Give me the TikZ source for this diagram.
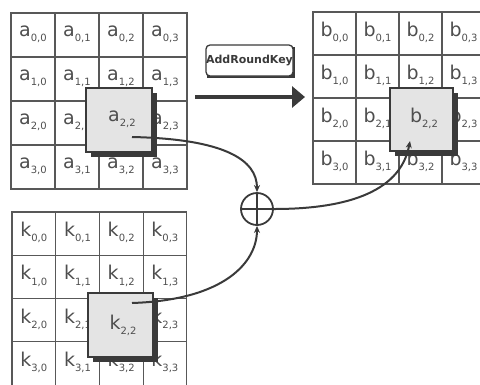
\documentclass[tikz,border=0pt]{standalone}
\usepackage{fontspec}
\setmainfont{DejaVu Sans}
\usetikzlibrary{arrows.meta}
\definecolor{ink}{HTML}{3A3A3A}
\definecolor{boxfill}{HTML}{E4E4E4}
\tikzset{
  gridline/.style={draw=ink!85, line width=1.1pt},
  cellname/.style={font=\fontsize{19}{19}\selectfont, text=ink!90, inner sep=0pt},
  hibox/.style={draw=ink, line width=1.3pt, fill=boxfill},
  hishadow/.style={fill=ink, draw=none},
  flow/.style={draw=ink, line width=2pt, -{Stealth[length=7pt,width=6pt]}},
  bigarrow/.style={draw=ink, line width=4pt, -{Triangle[length=13pt,width=21pt]}},
  opbox/.style={draw=ink, line width=1.3pt, rounded corners=4pt, fill=white, minimum width=87pt, minimum height=31pt, inner sep=0pt, font=\fontsize{11}{11}\selectfont\bfseries, text=ink},
  xorc/.style={draw=ink, line width=1.8pt, circle, minimum size=32pt, inner sep=0pt}
}
\newcommand{\cl}[3]{#1\raisebox{-0.5ex}{\fontsize{10}{10}\selectfont #2,#3}}
\begin{document}
\begin{tikzpicture}[x=1pt,y=-1pt]
\useasboundingbox (0,0) rectangle (480,384);
% grid A
\foreach \i in {0,...,3} \foreach \j in {0,...,3} {
  \draw[gridline] (11+44*\j,13+44*\i) rectangle ++(44,44);
  \ifnum\i\j=22 \else
  \node[cellname] (a\i\j) at (11+44*\j+22,13+44*\i+21) {\cl{a}{\i}{\j}};
  \fi
}
% grid B
\foreach \i in {0,...,3} \foreach \j in {0,...,3} {
  \draw[gridline] (313+43*\j,12+43*\i) rectangle ++(43,43);
  \ifnum\i\j=22 \else
  \node[cellname] (b\i\j) at (313+43*\j+21.5,12+43*\i+20.5) {\cl{b}{\i}{\j}};
  \fi
}
% grid K
\foreach \i in {0,...,3} \foreach \j in {0,...,3} {
  \draw[gridline] (12+43.7*\j,212+43.3*\i) rectangle ++(43.7,43.3);
  \ifnum\i\j=22 \else
  \node[cellname] (k\i\j) at (12+43.7*\j+21.8,212+43.3*\i+20.6) {\cl{k}{\i}{\j}};
  \fi
}
% highlighted boxes
\fill[hishadow] (91,93) rectangle (157,157);
\draw[hibox] (86,88) rectangle (152,152);
\node[cellname] (ahi) at (122,119) {\cl{a}{2}{2}};
\fill[hishadow] (395,93) rectangle (458,156);
\draw[hibox] (390,88) rectangle (453,151);
\node[cellname] (bhi) at (424,118) {\cl{b}{2}{2}};
\fill[hishadow] (93,298) rectangle (158,362);
\draw[hibox] (88,293) rectangle (153,357);
\node[cellname] (khi) at (123,325) {\cl{k}{2}{2}};
% operation label and arrow
\fill[ink] (207,47) rectangle (295,78);
\node[opbox] (op) at (249.5,60.5) {AddRoundKey};
\coordinate (arS) at (195,97);
\coordinate (arE) at (305,97);
\draw[bigarrow] (arS) -- (arE);
% xor
\node[xorc] (x) at (257,209) {};
\draw[ink, line width=1.5pt] (x.north) -- (x.south) (x.west) -- (x.east);
\coordinate (aS) at (132,137);
\coordinate (kS) at (132,303);
\coordinate (bE) at (410,141);
\draw[flow] (aS) .. controls (225,139) and (257,160) .. (x.north);
\draw[flow] (kS) .. controls (225,300) and (257,262) .. (x.south);
\draw[flow] (x.east) .. controls (340,209) and (400,195) .. (bE);
\end{tikzpicture}
\end{document}
